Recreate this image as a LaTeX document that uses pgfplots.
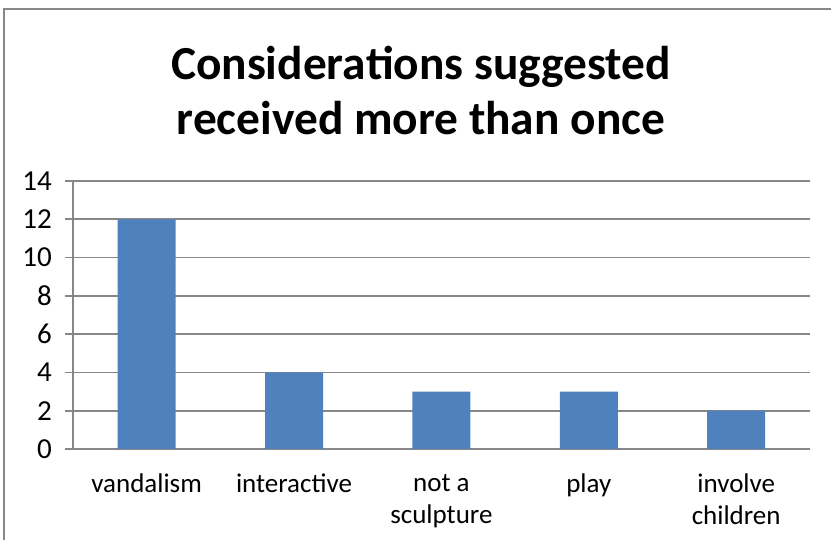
\documentclass[border=0pt]{standalone}
\usepackage{pgfplots}
\pgfplotsset{compat=1.18}
\usepackage{fontspec}
\setmainfont{Carlito}
\definecolor{barblue}{HTML}{4F81BD}
\definecolor{gridgray}{HTML}{878787}
\newcommand{\nolig}{\kern0pt\relax}

\begin{document}
\begin{tikzpicture}
  % page: 831 x 540 px, 1 px = 0.5 pt
  \path[use as bounding box] (0pt,0pt) rectangle (415.5pt,270pt);
  \draw[gridgray, line width=1pt] (2pt,0pt) -- (2pt,265.5pt) -- (415.5pt,265.5pt);
  \node[anchor=base, font=\bfseries\fontsize{23.7}{28}\selectfont] at (210.5pt,230pt) {Considera\nolig tions suggested};
  \node[anchor=base, font=\bfseries\fontsize{23.7}{28}\selectfont] at (210.5pt,202.5pt) {received more than once};
  \begin{axis}[
      at={(73.3pt,45.5pt)}, anchor=origin,
      scale only axis,
      width=368.5pt, height=134pt,
      xmin=-0.5, xmax=4.5,
      ymin=0, ymax=14,
      ytick={0,2,...,14},
      xtick={0,1,2,3,4},
      xticklabels={vandalism, interac\nolig tive, {not a\\sculpture}, play, {involve\\children}},
      x tick style={draw=none},
      axis lines*=left,
      axis line style={gridgray, line width=0.8pt},
      ymajorgrids,
      grid style={gridgray, line width=0.8pt},
      y tick style={gridgray, line width=0.8pt},
      tick align=outside,
      major tick length=4pt,
      /pgf/number format/assume math mode=true,
      tick label style={font=\fontsize{13.5}{16}\selectfont},
      yticklabel style={font=\fontsize{14.5}{16}\selectfont, xshift=-3pt},
      xticklabel style={align=center, yshift=-5pt},
      ybar, bar width=29pt,
    ]
    \addplot[fill=barblue, draw=none] coordinates {(0,12) (1,4) (2,3) (3,3) (4,2)};
    \pgfplotsextra{
      \foreach \xx in {-0.5,0.5,1.5,2.5,3.5,4.5} {
        \draw[gridgray, line width=0.8pt] (axis cs:\xx,0) -- ++(0,-4pt);
      }
    }
  \end{axis}
\end{tikzpicture}
\end{document}
